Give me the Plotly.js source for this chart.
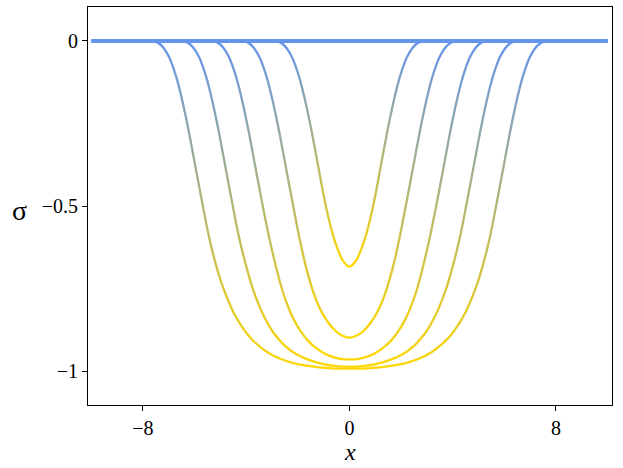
<!DOCTYPE html>
<html>
<head>
<meta charset="utf-8">
<script src="https://cdn.plot.ly/plotly-3.0.1.min.js"></script>
<style>
  html, body { margin: 0; padding: 0; background: #fff; }
  #chart { width: 623px; height: 468px; }
</style>
</head>
<body>
<div id="chart"></div>
<script>
// ---- data (sigma vs x), five profiles ----
const xA = [-10, -7.68, -7.58, -7.43, -7.28, -7.13, -6.98, -6.83, -6.68, -6.53, -6.38, -6.23, -6.08, -5.93, -5.78, -5.68, -5.43, -5.18, -4.93, -4.68, -4.43, -4.18, -3.93, -3.68, -3.18, -2.68, -2.18, -1.68, -1.18, -0.68, 0,
            0.68, 1.18, 1.68, 2.18, 2.68, 3.18, 3.68, 3.93, 4.18, 4.43, 4.68, 4.93, 5.18, 5.43, 5.68, 5.78, 5.93, 6.08, 6.23, 6.38, 6.53, 6.68, 6.83, 6.98, 7.13, 7.28, 7.43, 7.58, 7.68, 10];
const sA = [0, 0, -0.001, -0.005, -0.014, -0.029, -0.050, -0.080, -0.117, -0.163, -0.215, -0.272, -0.334, -0.397, -0.459, -0.500, -0.598, -0.676, -0.740, -0.790, -0.832, -0.864, -0.891, -0.912, -0.943, -0.963, -0.976, -0.984, -0.989, -0.992, -0.993,
            -0.992, -0.989, -0.984, -0.976, -0.963, -0.943, -0.912, -0.891, -0.864, -0.832, -0.790, -0.740, -0.676, -0.598, -0.500, -0.459, -0.397, -0.334, -0.272, -0.215, -0.163, -0.117, -0.080, -0.050, -0.029, -0.014, -0.005, -0.001, 0, 0];

const xB = [-10, -6.52, -6.42, -6.27, -6.12, -5.97, -5.82, -5.67, -5.52, -5.37, -5.22, -5.07, -4.92, -4.77, -4.62, -4.52, -4.27, -4.02, -3.77, -3.52, -3.27, -3.02, -2.77, -2.52, -2.02, -1.52, -1.02, -0.52, 0,
            0.52, 1.02, 1.52, 2.02, 2.52, 2.77, 3.02, 3.27, 3.52, 3.77, 4.02, 4.27, 4.52, 4.62, 4.77, 4.92, 5.07, 5.22, 5.37, 5.52, 5.67, 5.82, 5.97, 6.12, 6.27, 6.42, 6.52, 10];
const sB = [0, 0, -0.001, -0.005, -0.014, -0.029, -0.050, -0.080, -0.117, -0.163, -0.215, -0.272, -0.334, -0.397, -0.459, -0.500, -0.598, -0.677, -0.745, -0.798, -0.841, -0.875, -0.901, -0.922, -0.951, -0.968, -0.979, -0.985, -0.987,
            -0.985, -0.979, -0.968, -0.951, -0.922, -0.901, -0.875, -0.841, -0.798, -0.745, -0.677, -0.598, -0.500, -0.459, -0.397, -0.334, -0.272, -0.215, -0.163, -0.117, -0.080, -0.050, -0.029, -0.014, -0.005, -0.001, 0, 0];

const xC = [-10, -5.36, -5.26, -5.11, -4.96, -4.81, -4.66, -4.51, -4.36, -4.21, -4.06, -3.91, -3.76, -3.61, -3.46, -3.36, -3.11, -2.86, -2.61, -2.36, -2.11, -1.86, -1.61, -1.36, -0.86, -0.36, 0,
            0.36, 0.86, 1.36, 1.61, 1.86, 2.11, 2.36, 2.61, 2.86, 3.11, 3.36, 3.46, 3.61, 3.76, 3.91, 4.06, 4.21, 4.36, 4.51, 4.66, 4.81, 4.96, 5.11, 5.26, 5.36, 10];
const sC = [0, 0, -0.001, -0.005, -0.014, -0.029, -0.050, -0.080, -0.117, -0.163, -0.215, -0.272, -0.334, -0.397, -0.459, -0.500, -0.596, -0.680, -0.753, -0.809, -0.851, -0.883, -0.908, -0.926, -0.951, -0.963, -0.965,
            -0.963, -0.951, -0.926, -0.908, -0.883, -0.851, -0.809, -0.753, -0.680, -0.596, -0.500, -0.459, -0.397, -0.334, -0.272, -0.215, -0.163, -0.117, -0.080, -0.050, -0.029, -0.014, -0.005, -0.001, 0, 0];

const xD = [-10, -4.18, -4.08, -3.93, -3.78, -3.63, -3.48, -3.33, -3.18, -3.03, -2.88, -2.73, -2.58, -2.43, -2.28, -2.18, -1.93, -1.68, -1.43, -1.18, -0.93, -0.68, -0.43, 0,
            0.43, 0.68, 0.93, 1.18, 1.43, 1.68, 1.93, 2.18, 2.28, 2.43, 2.58, 2.73, 2.88, 3.03, 3.18, 3.33, 3.48, 3.63, 3.78, 3.93, 4.08, 4.18, 10];
const sD = [0, 0, -0.001, -0.005, -0.014, -0.029, -0.050, -0.080, -0.117, -0.163, -0.215, -0.272, -0.334, -0.397, -0.459, -0.500, -0.600, -0.686, -0.754, -0.805, -0.841, -0.867, -0.886, -0.899,
            -0.886, -0.867, -0.841, -0.805, -0.754, -0.686, -0.600, -0.500, -0.459, -0.397, -0.334, -0.272, -0.215, -0.163, -0.117, -0.080, -0.050, -0.029, -0.014, -0.005, -0.001, 0, 0];

const xE = [-10, -2.92, -2.82, -2.67, -2.52, -2.37, -2.22, -2.07, -1.92, -1.77, -1.62, -1.47, -1.32, -1.17, -1.0, -0.83, -0.66, -0.45, -0.25, 0,
            0.25, 0.45, 0.66, 0.83, 1.0, 1.17, 1.32, 1.47, 1.62, 1.77, 1.92, 2.07, 2.22, 2.37, 2.52, 2.67, 2.82, 2.92, 10];
const sE = [0, 0, -0.001, -0.005, -0.014, -0.029, -0.050, -0.080, -0.117, -0.163, -0.215, -0.272, -0.334, -0.397, -0.468, -0.530, -0.583, -0.632, -0.666, -0.684,
            -0.666, -0.632, -0.583, -0.530, -0.468, -0.397, -0.334, -0.272, -0.215, -0.163, -0.117, -0.080, -0.050, -0.029, -0.014, -0.005, -0.001, 0, 0];

const xZero = [-10, 10];
const sZero = [0, 0];

const xTicks = [-8, 0, 8];
const yTicks = [-1, -0.5, 0];

// ---- styling ----
const BLUE = [100, 149, 237];
const GOLD = [255, 215, 0];
const curves = [[xA, sA], [xB, sB], [xC, sC], [xD, sD], [xE, sE]];

const traces = [];
traces.push({
  x: xZero, y: sZero, type: 'scatter', mode: 'lines',
  line: { color: 'rgb(100,149,237)', width: 3.8 }, hoverinfo: 'skip'
});
curves.forEach(([xs, ys]) => {
  traces.push({
    x: xs, y: ys, type: 'scatter', mode: 'lines',
    line: { color: 'rgb(177,182,118)', width: 2.3, shape: 'spline', smoothing: 1 },
    hoverinfo: 'skip'
  });
});

const serif = "Liberation Serif, Times New Roman, serif";
const layout = {
  width: 623, height: 468,
  margin: { l: 88, r: 11, t: 7, b: 63 },
  paper_bgcolor: '#fff', plot_bgcolor: '#fff',
  showlegend: false,
  xaxis: {
    range: [-10.13, 10.17], tickvals: xTicks,
    ticks: 'outside', ticklen: 5, tickwidth: 1, tickcolor: '#000',
    showline: true, linecolor: '#000', linewidth: 1, mirror: true,
    showgrid: false, zeroline: false,
    tickfont: { family: serif, size: 20, color: '#000' }
  },
  yaxis: {
    range: [-1.103, 0.103], tickvals: yTicks,
    ticks: 'outside', ticklen: 5, tickwidth: 1, tickcolor: '#000',
    showline: true, linecolor: '#000', linewidth: 1, mirror: true,
    showgrid: false, zeroline: false,
    tickfont: { family: serif, size: 20, color: '#000' }
  },
  annotations: [
    {
      text: '<i>x</i>', xref: 'paper', yref: 'paper', x: 0.5, y: -0.118,
      xanchor: 'center', yanchor: 'middle', showarrow: false, borderpad: 0,
      font: { family: serif, size: 24, color: '#000' }
    },
    {
      text: 'σ', xref: 'paper', yref: 'paper', x: -0.131, y: 0.488,
      xanchor: 'center', yanchor: 'middle', showarrow: false,
      font: { family: serif, size: 28, color: '#000' }
    }
  ]
};

const gd = document.getElementById('chart');
Plotly.newPlot(gd, traces, layout, { staticPlot: true, displayModeBar: false }).then(() => {
  // vertical colour gradient: blue at sigma=0 -> gold at each curve's own minimum
  const ya = gd._fullLayout.yaxis;
  const svg = gd.querySelector('svg.main-svg');
  const defs = svg.querySelector('defs');
  const NS = 'http://www.w3.org/2000/svg';
  const traceGroups = gd.querySelectorAll('.scatterlayer .trace');
  curves.forEach(([xs, ys], i) => {
    const minV = Math.min.apply(null, ys);
    const g = document.createElementNS(NS, 'linearGradient');
    g.setAttribute('id', 'grad' + i);
    g.setAttribute('gradientUnits', 'userSpaceOnUse');
    g.setAttribute('x1', 0); g.setAttribute('x2', 0);
    g.setAttribute('y1', ya.l2p(0)); g.setAttribute('y2', ya.l2p(minV));
    [[0, BLUE], [1, GOLD]].forEach(([o, c]) => {
      const st = document.createElementNS(NS, 'stop');
      st.setAttribute('offset', o);
      st.setAttribute('stop-color', 'rgb(' + c.join(',') + ')');
      g.appendChild(st);
    });
    defs.appendChild(g);
    const path = traceGroups[i + 1] && traceGroups[i + 1].querySelector('path.js-line');
    if (path) path.style.stroke = 'url(#grad' + i + ')';
  });
});
</script>
</body>
</html>
